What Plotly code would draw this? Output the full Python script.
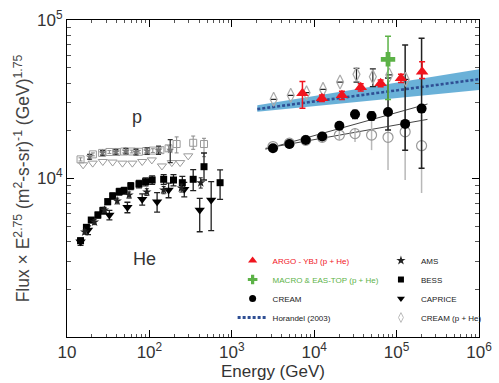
import numpy as np
import plotly.graph_objects as go

# ---------------- data (E in GeV, flux x E^2.75) ----------------
# ARGO-YBJ (p + He)
argo_E = [7.2e3, 1.24e4, 2.17e4, 3.67e4, 6.4e4, 1.13e5, 2.04e5]
argo_F = [3.45e4, 3.21e4, 3.35e4, 3.76e4, 3.99e4, 4.29e4, 4.72e4]
argo_up = [6400, 1500, 2000, 2000, 2000, 2500, 7400]
argo_dn = [6800, 1500, 2000, 2000, 2000, 2500, 4500]

# MACRO & EAS-TOP (p + He)
macro_E = [7.87e4]
macro_F = [5.65e4]
macro_up = [2.25e4]
macro_dn = [2.5e4]

# CREAM (p + He)
cpd_E = [3.22e3, 5.19e3, 8.07e3, 1.28e4, 2.06e4, 3.26e4, 5.15e4, 8.15e4, 1.29e5]
cpd_F = [3.16e4, 3.35e4, 3.48e4, 3.65e4, 4.06e4, 4.54e4, 4.39e4, 4.5e4, 4.22e4]
cpd_up = [0, 0, 0, 0, 0, 4200, 5200, 0, 0]
cpd_dn = [0, 0, 0, 0, 0, 4900, 5900, 0, 0]

# CREAM proton
cp_E = [3.16e3, 5.0e3, 7.9e3, 1.25e4, 2.02e4, 3.13e4, 4.97e4, 7.87e4, 1.27e5, 2.01e5]
cp_F = [1.55e4, 1.65e4, 1.75e4, 1.84e4, 2.15e4, 2.54e4, 2.48e4, 2.63e4, 2.21e4, 2.76e4]
cp_up = [300, 300, 400, 500, 900, 1500, 1500, 16800, 47500, 49000]
cp_dn = [300, 300, 400, 500, 900, 1500, 1500, 6100, 7000, 16000]

# CREAM helium
ch_E = [3.16e3, 5.0e3, 7.9e3, 1.25e4, 2.02e4, 3.13e4, 4.97e4, 7.87e4, 1.27e5, 2.01e5]
ch_F = [1.59e4, 1.67e4, 1.74e4, 1.82e4, 1.88e4, 1.92e4, 1.88e4, 1.82e4, 1.97e4, 1.61e4]
ch_up = [300, 300, 400, 500, 1200, 1600, 4600, 5200, 7300, 9100]
ch_dn = [300, 300, 400, 500, 1200, 2200, 3700, 6900, 9900, 8000]

# power-law fits to CREAM p and He
fit_E = [2.56e3, 2.37e5]
fit_p = [1.53e4, 2.95e4]
fit_he = [1.55e4, 2.36e4]

# Horandel (2003) poly-gonato model with uncertainty band
hor_E = [2.04e3, 1e6]
hor_F = [2.74e4, 4.23e4]
hor_lo = [2.64e4, 3.62e4]
hor_hi = [2.90e4, 4.89e4]

# BESS
bp_E = [14.6, 20.6, 26.7, 32.7, 40, 49.4, 61.1, 74.6, 91.2, 110, 136, 171, 214, 340, 460]
bp_F = [1.32e4, 1.42e4, 1.45e4, 1.47e4, 1.47e4, 1.48e4, 1.48e4, 1.475e4, 1.49e4,
        1.50e4, 1.51e4, 1.55e4, 1.65e4, 1.68e4, 1.65e4]
bp_up = [300, 300, 300, 300, 300, 300, 300, 300, 400, 400, 500, 600, 1800, 1730, 1430]
bp_dn = [300, 300, 300, 300, 300, 300, 300, 300, 400, 400, 500, 600, 2000, 1520, 2770]

bh_E = [14.6, 17.2, 19.7, 23.7, 27.2, 31.2, 35.8, 43.0, 49.4, 59.4, 74.7, 89.8,
        108, 149, 196, 251, 340, 460, 721]
bh_F = [4050, 4920, 5470, 5885, 6265, 7140, 7755, 8255, 8375, 8970, 9235, 9545,
        9785, 9885, 9785, 9410, 9885, 11870, 9410]
bh_up = [150, 200, 200, 250, 300, 300, 350, 400, 400, 450, 500, 550, 600, 700,
         800, 900, 1500, 2610, 1910]
bh_dn = [150, 200, 200, 250, 300, 300, 350, 400, 400, 450, 500, 550, 600, 700,
         800, 900, 1500, 2085, 2020]

# CAPRICE
capp_E = [15.7, 20.5, 27.2, 35.8, 47.1, 62.1, 81.8, 107, 142, 187, 236, 296]
capp_F = [1.22e4, 1.25e4, 1.28e4, 1.27e4, 1.25e4, 1.25e4, 1.28e4, 1.31e4,
          1.20e4, 1.26e4, 1.26e4, 1.39e4]

caph_E = [14.6, 18.0, 32.7, 54.1, 81.8, 124, 171, 265, 408, 562]
caph_F = [3990, 4730, 5885, 6580, 7390, 7140, 8460, 8550, 6330, 7315]
caph_up = [200, 300, 400, 500, 600, 1000, 900, 900, 1170, 2230]
caph_dn = [200, 300, 400, 500, 600, 1000, 900, 900, 1715, 2630]

# AMS
amsp_E = [18.8, 27, 39.3, 51.8, 68.7, 93.8, 129, 179]
amsp_F = [1.37e4, 1.45e4, 1.47e4, 1.49e4, 1.47e4, 1.49e4, 1.51e4, 1.51e4]
amsp_err = [500, 500, 500, 600, 600, 700, 900, 2500]

amsh_E = [16.4, 21.6, 28.5, 40.7, 56.7, 93.1, 149, 244, 420]
amsh_F = [4600, 5315, 6330, 7215, 7870, 8220, 8460, 8710, 9400]
amsh_err = [150, 200, 250, 300, 350, 400, 450, 500, 700]

x_ticks = [10, 1e2, 1e3, 1e4, 1e5, 1e6]
x_ticktext = ["10", "10<sup>2</sup>", "10<sup>3</sup>", "10<sup>4</sup>",
              "10<sup>5</sup>", "10<sup>6</sup>"]
y_ticks = [1e4, 1e5]
y_ticktext = ["10<sup>4</sup>", "10<sup>5</sup>"]

RED = "#f0141e"
GREEN = "#5cb247"
GRAY = "#9a9a9a"
LIGHT = "#b8b8b8"


def err(up, dn, color, width=3, thick=1):
    return dict(type="data", array=up, arrayminus=dn, visible=True,
                color=color, thickness=thick, width=width)


fig = go.Figure()

# Horandel band
fig.add_trace(go.Scatter(x=hor_E, y=hor_lo, mode="lines", line=dict(width=0),
                         showlegend=False, hoverinfo="skip"))
fig.add_trace(go.Scatter(x=hor_E, y=hor_hi, mode="lines", line=dict(width=0),
                         fill="tonexty", fillcolor="rgba(90,168,212,0.9)",
                         showlegend=False, hoverinfo="skip"))
fig.add_trace(go.Scatter(x=hor_E, y=hor_F, mode="lines", showlegend=False,
                         line=dict(color="#2f4f94", width=2.6, dash="3px,2px")))

# fits
fig.add_trace(go.Scatter(x=fit_E, y=fit_p, mode="lines", showlegend=False,
                         line=dict(color="#444", width=1)))
fig.add_trace(go.Scatter(x=fit_E, y=fit_he, mode="lines", showlegend=False,
                         line=dict(color="#444", width=1)))

# CREAM He (open circles)
fig.add_trace(go.Scatter(x=ch_E, y=ch_F, mode="markers", showlegend=False,
                         marker=dict(symbol="circle-open", size=10, color="#999",
                                     line=dict(width=1.2)),
                         error_y=err(ch_up, ch_dn, LIGHT, width=0, thick=1.5)))
# CREAM p (filled circles)
fig.add_trace(go.Scatter(x=cp_E, y=cp_F, mode="markers", showlegend=False,
                         marker=dict(symbol="circle", size=10, color="black"),
                         error_y=err(cp_up, cp_dn, "#222", width=3, thick=1.5)))

# CREAM p+He diamonds
fig.add_trace(go.Scatter(x=cpd_E, y=cpd_F, mode="markers", showlegend=False,
                         marker=dict(symbol="diamond-tall-open", size=10, color="#aaa",
                                     line=dict(width=1.2)),
                         error_y=err(cpd_up, cpd_dn, "#222", width=3, thick=1.2)))

# MACRO & EAS-TOP
fig.add_trace(go.Scatter(x=macro_E, y=macro_F, mode="markers", showlegend=False,
                         marker=dict(symbol="cross", size=12, color=GREEN),
                         error_y=err(macro_up, macro_dn, GREEN, width=3, thick=1.5)))

# ARGO-YBJ
fig.add_trace(go.Scatter(x=argo_E, y=argo_F, mode="markers", showlegend=False,
                         marker=dict(symbol="triangle-up", size=11, color=RED),
                         error_y=err(argo_up, argo_dn, RED, width=3, thick=1.5)))

# low-energy protons (open gray)
fig.add_trace(go.Scatter(x=capp_E, y=capp_F, mode="markers", showlegend=False,
                         marker=dict(symbol="triangle-down-open", size=8, color=GRAY,
                                     line=dict(width=1))))
fig.add_trace(go.Scatter(x=bp_E, y=bp_F, mode="markers", showlegend=False,
                         marker=dict(symbol="square-open", size=7, color=GRAY,
                                     line=dict(width=1)),
                         error_y=err(bp_up, bp_dn, "#888", width=2)))
fig.add_trace(go.Scatter(x=amsp_E, y=amsp_F, mode="markers", showlegend=False,
                         marker=dict(symbol="star", size=6, color="#777"),
                         error_y=err(amsp_err, amsp_err, "#333", width=2.5, thick=1.3)))

# low-energy helium (filled black)
fig.add_trace(go.Scatter(x=caph_E, y=caph_F, mode="markers", showlegend=False,
                         marker=dict(symbol="triangle-down", size=9, color="black"),
                         error_y=err(caph_up, caph_dn, "#222", width=3, thick=1.3)))
fig.add_trace(go.Scatter(x=bh_E, y=bh_F, mode="markers", showlegend=False,
                         marker=dict(symbol="square", size=7, color="black"),
                         error_y=err(bh_up, bh_dn, "#222", width=3, thick=1.3)))
fig.add_trace(go.Scatter(x=amsh_E, y=amsh_F, mode="markers", showlegend=False,
                         marker=dict(symbol="star", size=7, color="#222"),
                         error_y=err(amsh_err, amsh_err, "#222", width=2, thick=1)))

# legend keys (no data, legend only)
left_keys = [
    ('<span style="color:#f0141e">ARGO - YBJ (p + He)</span>', dict(symbol="triangle-up", size=8, color=RED)),
    ('<span style="color:#5cb247">MACRO &amp; EAS-TOP (p + He)</span>', dict(symbol="cross", size=8, color=GREEN)),
    ("CREAM", dict(symbol="circle", size=7, color="black")),
]
for name, mk in left_keys:
    fig.add_trace(go.Scatter(x=[None], y=[None], mode="markers", name=name,
                             marker=mk, legend="legend"))
fig.add_trace(go.Scatter(x=[None], y=[None], mode="lines", name="Horandel (2003)",
                         line=dict(color="#2f4f94", width=3, dash="3px,2px"),
                         legend="legend"))
right_keys = [
    ("AMS", dict(symbol="star", size=7, color="#222")),
    ("BESS", dict(symbol="square", size=6, color="black")),
    ("CAPRICE", dict(symbol="triangle-down", size=7, color="black")),
    ("CREAM (p + He)", dict(symbol="diamond-tall-open", size=7, color="#bbb", line=dict(width=1))),
]
for name, mk in right_keys:
    fig.add_trace(go.Scatter(x=[None], y=[None], mode="markers", name=name,
                             marker=mk, legend="legend2"))

minor_vals = [m * 10.0 ** d for d in range(0, 7) for m in range(2, 10)]

axis_common = dict(type="log", showline=True, linecolor="black", linewidth=1,
                   mirror="allticks", ticks="inside", ticklen=7, tickcolor="black",
                   showgrid=False, zeroline=False, automargin=False,
                   tickfont=dict(family="Liberation Sans, Arial", size=17, color="#333"))

fig.update_xaxes(range=[1, 6], tickmode="array", tickvals=x_ticks, ticktext=x_ticktext,
                 minor=dict(ticks="inside", ticklen=3, tickvals=minor_vals,
                            tickcolor="#555"),
                 title=dict(text="Energy (GeV)", standoff=2,
                            font=dict(family="Liberation Sans, Arial", size=17, color="#333")),
                 **axis_common)
fig.update_yaxes(range=[3, 5], tickmode="array", tickvals=y_ticks, ticktext=y_ticktext,
                 minor=dict(ticks="inside", ticklen=4, tickvals=minor_vals,
                            tickcolor="#555"),
                 title=dict(text="Flux × E<sup>2.75</sup> (m<sup>2</sup>-s-sr)<sup>-1</sup> (GeV)<sup>1.75</sup>",
                            standoff=2,
                            font=dict(family="Liberation Sans, Arial", size=17.5, color="#444")),
                 **axis_common)

leg_font = dict(family="Liberation Sans Narrow, Liberation Sans, Arial", size=8, color="#222")
fig.update_layout(
    width=499, height=383,
    margin=dict(l=67, r=14, t=20, b=46),
    paper_bgcolor="white", plot_bgcolor="white",
    legend=dict(x=0.402, y=0.287, xanchor="left", yanchor="top", font=leg_font,
                bgcolor="rgba(0,0,0,0)", itemwidth=30, traceorder="normal"),
    legend2=dict(x=0.762, y=0.287, xanchor="left", yanchor="top", font=leg_font,
                 bgcolor="rgba(0,0,0,0)", itemwidth=30, traceorder="normal"),
    annotations=[
        dict(x=np.log10(70), y=np.log10(2.45e4), xref="x", yref="y", text="p",
             showarrow=False, font=dict(family="Liberation Sans, Arial", size=18, color="#333")),
        dict(x=np.log10(88), y=np.log10(3.1e3), xref="x", yref="y", text="He",
             showarrow=False, font=dict(family="Liberation Sans, Arial", size=18, color="#333")),
    ],
)

fig.write_html("out.html")
